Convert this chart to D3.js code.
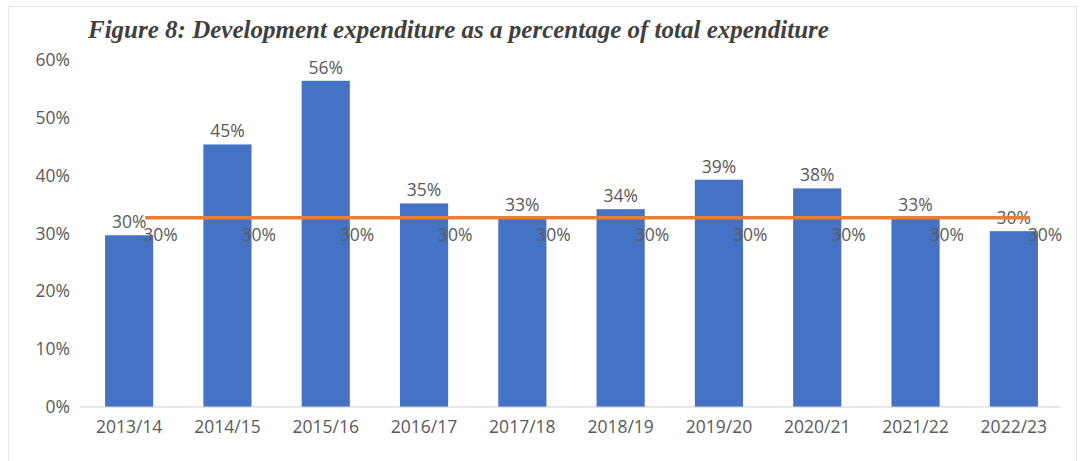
<!DOCTYPE html>
<html>
<head>
<meta charset="utf-8">
<script src="https://cdn.jsdelivr.net/npm/d3@7"></script>
<style>
  html, body { margin: 0; padding: 0; background: #fff; }
  svg { display: block; }
  .lbl { font-family: "Open Sans", "Noto Sans", sans-serif; font-size: 17.5px; fill: #5a5a5a; }
</style>
</head>
<body>
<svg id="chart" width="1080" height="461"></svg>
<script>
// Financial years on the category axis
const years = ["2013/14", "2014/15", "2015/16", "2016/17", "2017/18",
               "2018/19", "2019/20", "2020/21", "2021/22", "2022/23"];
// Development expenditure as share of total expenditure
const devShare = [0.297, 0.454, 0.564, 0.352, 0.326, 0.342, 0.393, 0.378, 0.327, 0.304];
// Benchmark share (30%) plotted as a line on the secondary axis
const benchmark = [0.30, 0.30, 0.30, 0.30, 0.30, 0.30, 0.30, 0.30, 0.30, 0.30];
// Primary axis ticks
const yTicks = [0, 0.1, 0.2, 0.3, 0.4, 0.5, 0.6];

const title = "Figure 8: Development expenditure as a percentage of total expenditure";

const svg = d3.select("#chart");
const plot = { left: 80, right: 1063, top: 60, bottom: 407 };

// Frame around the chart area
svg.append("rect")
  .attr("x", 8.5).attr("y", 6.5)
  .attr("width", 1068).attr("height", 470)
  .attr("fill", "none").attr("stroke", "#e3e3e3").attr("stroke-width", 1);

const x = d3.scaleBand().domain(years).range([plot.left, plot.right]).paddingInner(0.51).paddingOuter(0.255);
const y = d3.scaleLinear().domain([0, 0.6]).range([plot.bottom, plot.top]);
// Secondary (hidden) value axis for the benchmark line
const y2 = d3.scaleLinear().domain([0, 0.55]).range([plot.bottom, plot.top]);
const pct = d3.format(".0%");

// Title
svg.append("text")
  .attr("x", 88).attr("y", 38)
  .attr("font-family", "'Liberation Serif', 'Times New Roman', serif")
  .attr("font-style", "italic").attr("font-weight", "bold")
  .attr("font-size", 25).attr("fill", "#404040")
  .text(title);

// Y axis labels
const yAxis = d3.axisLeft(y).tickValues(yTicks).tickFormat(pct).tickSize(0).tickPadding(0);
const gy = svg.append("g").attr("transform", `translate(70,0)`).call(yAxis);
gy.select(".domain").remove();
gy.selectAll("text").attr("class", "lbl").attr("font-family", null).attr("font-size", null).attr("fill", null);

// Bars
svg.append("g").selectAll("rect")
  .data(devShare)
  .join("rect")
  .attr("x", (d, i) => x(years[i]))
  .attr("y", d => y(d))
  .attr("width", x.bandwidth())
  .attr("height", d => y(0) - y(d))
  .attr("fill", "#4472C4");

// Category axis
const xAxis = d3.axisBottom(x).tickSize(0).tickPadding(14);
const gx = svg.append("g").attr("transform", `translate(0,${plot.bottom})`).call(xAxis);
gx.select(".domain").attr("stroke", "#d0d0d0").attr("stroke-width", 1.2)
  .attr("d", `M${plot.left},0H${plot.right - 3}`);
gx.selectAll("text").attr("class", "lbl").attr("font-family", null).attr("font-size", null).attr("fill", null);

// Bar value labels
svg.append("g").selectAll("text")
  .data(devShare)
  .join("text")
  .attr("class", "lbl")
  .attr("text-anchor", "middle")
  .attr("x", (d, i) => x(years[i]) + x.bandwidth() / 2)
  .attr("y", d => y(d) - 7)
  .text(d => pct(d));

// Benchmark line
const lineX = (i) => x(years[i]) + x.bandwidth() / 2 + 16;
const line = d3.line().x((d, i) => lineX(i)).y(d => y2(d));
svg.append("path")
  .datum(benchmark)
  .attr("d", line)
  .attr("fill", "none")
  .attr("stroke", "#ED7D31")
  .attr("stroke-width", 3.5);

// Benchmark labels
svg.append("g").selectAll("text")
  .data(benchmark)
  .join("text")
  .attr("class", "lbl")
  .attr("x", (d, i) => lineX(i) - 2)
  .attr("y", d => y2(d) + 23)
  .text(d => pct(d));
</script>
</body>
</html>
